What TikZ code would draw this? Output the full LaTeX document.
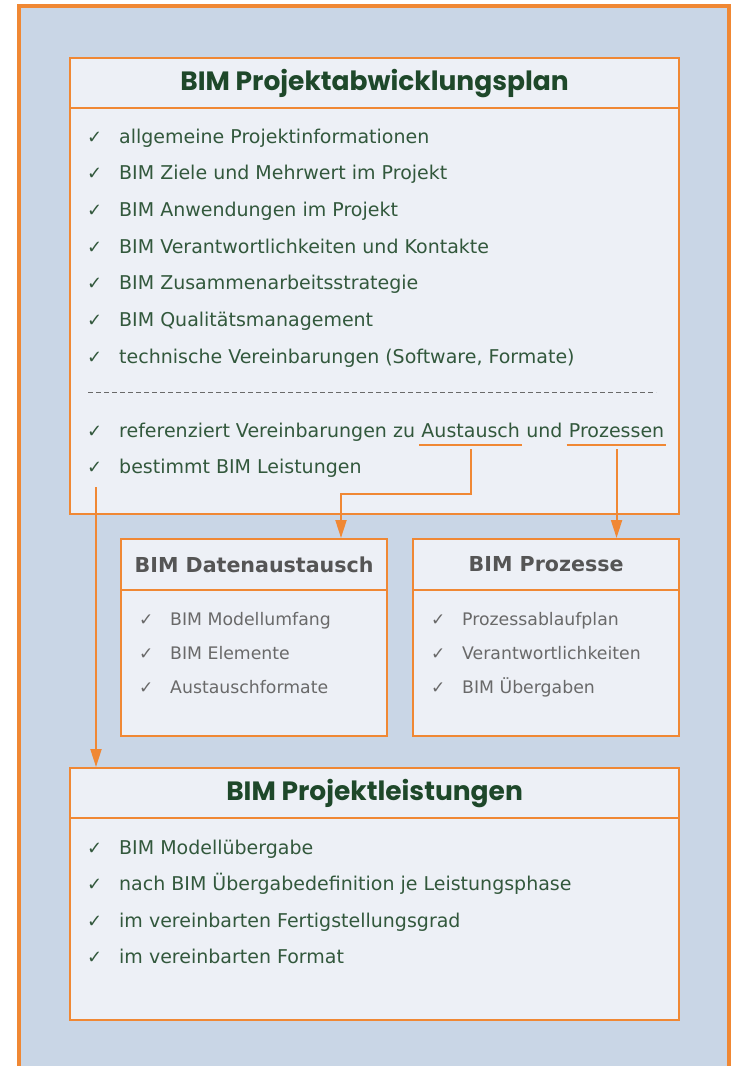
\documentclass[tikz,border=0pt]{standalone}
\usepackage{fontspec}
\setmainfont{DejaVu Sans}
\newfontfamily\titlefont{Poppins}
\usetikzlibrary{arrows.meta,calc}
\definecolor{bg}{RGB}{201,214,230}
\definecolor{boxfill}{RGB}{237,240,246}
\definecolor{orng}{RGB}{240,136,52}
\definecolor{ttlgreen}{RGB}{30,72,42}
\definecolor{itgreen}{RGB}{50,88,60}
\definecolor{ttlgray}{RGB}{85,85,85}
\definecolor{itgray}{RGB}{105,105,105}
\tikzset{
  boxshape/.style={draw=orng, line width=2.2pt, fill=boxfill, rectangle, anchor=north west, inner sep=0pt},
  maintitle/.style={boxshape, font=\titlefont\bfseries\fontsize{26.5}{30}\selectfont, text=ttlgreen},
  subtitle/.style={boxshape, font=\bfseries\fontsize{20.6}{24}\selectfont, text=ttlgray},
  item/.style={font=\fontsize{19}{22}\selectfont, text=itgreen, inner sep=0pt, anchor=base west},
  gitem/.style={item, font=\fontsize{17.3}{20}\selectfont, text=itgray},
  chk/.style={font=\fontsize{18}{20}\selectfont, text=itgreen, inner sep=0pt, anchor=base west},
  gchk/.style={chk, font=\fontsize{17}{20}\selectfont, text=itgray},
  conn/.style={draw=orng, line width=2pt, -{Triangle[length=18pt,width=11pt]}},
  uline/.style={draw=orng, line width=2pt}
}
\begin{document}
\begin{tikzpicture}[x=1pt,y=-1pt]
\useasboundingbox (0,0) rectangle (732,1066);
\clip (0,0) rectangle (732,1066);
% outer frame
\draw[draw=orng, line width=3.5pt, fill=bg] (19,6) rectangle (729,1100);

% main box
\node[maintitle, minimum width=609pt, minimum height=50pt] (papt) at (69,57) {BIM Projektabwicklungsplan};
\node[boxshape, minimum width=609pt, minimum height=406pt] (pap) at (69,107) {};
\foreach \t [count=\i from 0] in {allgemeine Projektinformationen, BIM Ziele und Mehrwert im Projekt, BIM Anwendungen im Projekt, BIM Verantwortlichkeiten und Kontakte, BIM Zusammenarbeitsstrategie, BIM Qualitätsmanagement, {technische Vereinbarungen (Software, Formate)}}{
  \node[chk] (pc\i) at (87,{143+36.67*\i}) {✓};
  \node[item] (pi\i) at (119,{143+36.67*\i}) {\t};
}
\draw[draw=itgray, line width=1pt, dash pattern=on 5pt off 3pt] (88,392) -- (656,392);
\node[chk] (pc7) at (87,437) {✓};
\node[item] (pi7) at (119,437) {referenziert Vereinbarungen zu};
\node[item] (aus) at ($(pi7.base east)+(6,0)$) {Austausch};
\node[item] (und) at ($(aus.base east)+(6,0)$) {und};
\node[item] (proz) at ($(und.base east)+(6,0)$) {Prozessen};
\node[chk] (pc8) at (87,473.5) {✓};
\node[item] (pi8) at (119,473.5) {bestimmt BIM Leistungen};
\draw[uline] ($(aus.base west)+(-2,8)$) -- ($(aus.base east)+(2,8)$);
\draw[uline] ($(proz.base west)+(-2,8)$) -- ($(proz.base east)+(2,8)$);

% sub boxes
\node[subtitle, minimum width=266pt, minimum height=51pt] (datt) at (120,538) {BIM Datenaustausch};
\node[boxshape, minimum width=266pt, minimum height=146pt] (dat) at (120,589) {};
\node[subtitle, minimum width=266pt, minimum height=51pt] (prot) at (412,538) {BIM Prozesse};
\node[boxshape, minimum width=266pt, minimum height=146pt] (pro) at (412,589) {};
\foreach \t [count=\i from 0] in {BIM Modellumfang, BIM Elemente, Austauschformate}{
  \node[gchk] (dc\i) at (139,{625+34*\i}) {✓};
  \node[gitem] (di\i) at (170,{625+34*\i}) {\t};
}
\foreach \t [count=\i from 0] in {Prozessablaufplan, Verantwortlichkeiten, BIM Übergaben}{
  \node[gchk] (rc\i) at (431,{625+34*\i}) {✓};
  \node[gitem] (ri\i) at (462,{625+34*\i}) {\t};
}

% bottom box
\node[maintitle, minimum width=609pt, minimum height=50pt] (plt) at (69,767) {BIM Projektleistungen};
\node[boxshape, minimum width=609pt, minimum height=202pt] (pl) at (69,817) {};
\foreach \t [count=\i from 0] in {BIM Modellübergabe, nach BIM Übergabedefinition je Leistungsphase, im vereinbarten Fertigstellungsgrad, im vereinbarten Format}{
  \node[chk] (lc\i) at (87,{854+36.5*\i}) {✓};
  \node[item] (li\i) at (119,{854+36.5*\i}) {\t};
}

% connectors
\coordinate (ausS) at ($(aus.base)+(0,12)$);
\coordinate (bend1) at (341,494);
\draw[conn] (ausS) |- (bend1) -- (bend1 |- datt.north);
\coordinate (prozS) at ($(proz.base)+(0,12)$);
\draw[conn] (prozS) -- (prozS |- prot.north);
\coordinate (leftS) at (96,487);
\draw[conn] (leftS) -- (leftS |- plt.north);
\end{tikzpicture}
\end{document}
